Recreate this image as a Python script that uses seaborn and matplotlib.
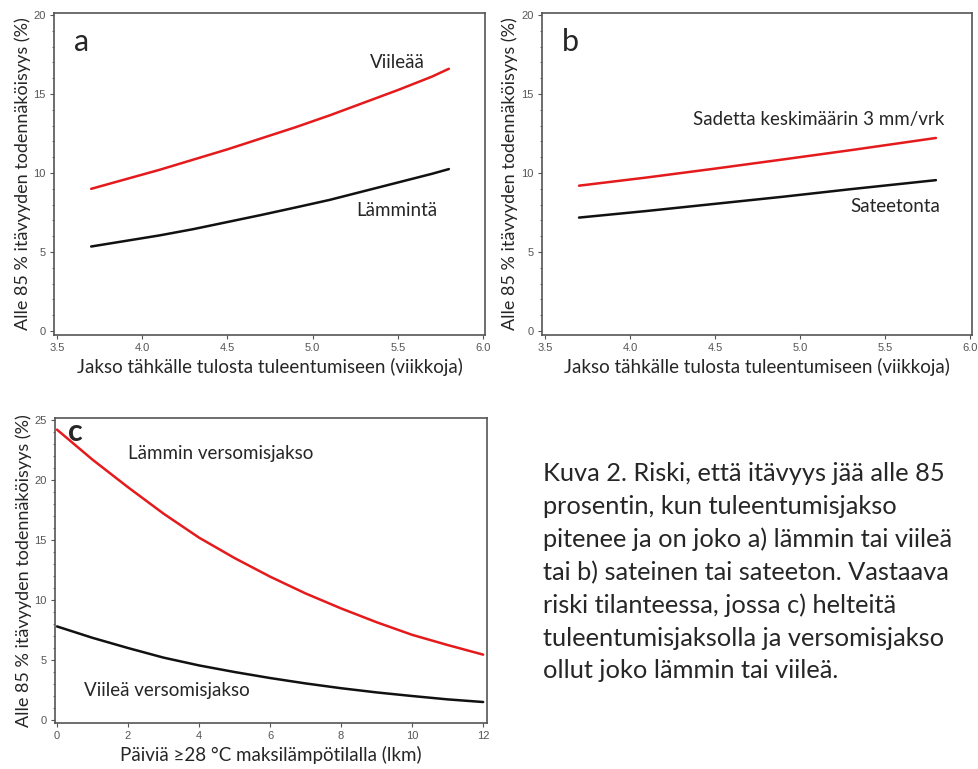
import pandas as pd
import matplotlib
matplotlib.use('Agg')
import matplotlib.pyplot as plt
import seaborn as sns
from matplotlib.ticker import MultipleLocator

# Data
weeks_a = [3.7, 3.9, 4.1, 4.3, 4.5, 4.7, 4.9, 5.1, 5.3, 5.5, 5.7, 5.8]
a_viilea = [9.0, 9.6, 10.2, 10.85, 11.5, 12.2, 12.9, 13.65, 14.45, 15.25, 16.1, 16.6]
a_lamminta = [5.35, 5.7, 6.05, 6.45, 6.9, 7.35, 7.82, 8.3, 8.85, 9.4, 9.95, 10.25]

weeks_b = [3.7, 4.1, 4.5, 4.9, 5.3, 5.8]
b_sadetta = [9.2, 9.72, 10.28, 10.86, 11.45, 12.22]
b_sateetonta = [7.18, 7.6, 8.05, 8.5, 8.98, 9.55]

days = [0, 1, 2, 3, 4, 5, 6, 7, 8, 9, 10, 11, 12]
c_lammin = [24.2, 21.7, 19.4, 17.2, 15.2, 13.5, 11.95, 10.55, 9.3, 8.15, 7.1, 6.25, 5.45]
c_viilea = [7.8, 6.85, 6.0, 5.2, 4.55, 4.0, 3.5, 3.05, 2.65, 2.3, 2.0, 1.72, 1.5]

ylabel = 'Alle 85 % itävyyden todennäköisyys (%)'
xlabel_ab = 'Jakso tähkälle tulosta tuleentumiseen (viikkoja)'
xlabel_c = 'Päiviä ≥28 °C maksilämpötilalla (lkm)'
caption = ('Kuva 2. Riski, että itävyys jää alle 85\n'
           'prosentin, kun tuleentumisjakso\n'
           'pitenee ja on joko a) lämmin tai viileä\n'
           'tai b) sateinen tai sateeton. Vastaava\n'
           'riski tilanteessa, jossa c) helteitä\n'
           'tuleentumisjaksolla ja versomisjakso\n'
           'ollut joko lämmin tai viileä.')

sns.set_style('white')
plt.rcParams['font.family'] = ['Lato', 'DejaVu Sans']

RED = '#e41a1c'
BLACK = '#111111'
SPINE = '#555555'
NOTE_FS = 13.5

fig = plt.figure(figsize=(9.79, 7.69), dpi=100)


def style_axes(ax, xlabel):
    for s in ax.spines.values():
        s.set_color(SPINE)
        s.set_linewidth(1.2)
    ax.tick_params(axis='both', which='major', direction='out', length=3,
                   width=0.8, color=SPINE, labelsize=8, labelcolor='#555555',
                   bottom=True, left=True, pad=3)
    ax.tick_params(axis='y', which='minor', direction='out', length=1.8,
                   width=0.6, color=SPINE, left=True)
    for lab in ax.get_xticklabels() + ax.get_yticklabels():
        lab.set_family(['Liberation Sans', 'DejaVu Sans'])
    ax.set_xlabel(xlabel, fontsize=13.5, labelpad=3)
    ax.set_ylabel(ylabel, fontsize=13, labelpad=2)
    ax.grid(False)


# --- Panel a ---
ax_a = fig.add_axes([0.0552, 0.5644, 0.4402, 0.4187])
df_a = pd.DataFrame({'x': weeks_a * 2, 'y': a_viilea + a_lamminta,
                     'ryhma': ['Viileää'] * len(weeks_a) + ['Lämmintä'] * len(weeks_a)})
sns.lineplot(data=df_a, x='x', y='y', hue='ryhma', palette=[RED, BLACK],
             linewidth=1.8, legend=False, ax=ax_a)
ax_a.set_xlim(3.482, 6.012)
ax_a.set_ylim(-0.25, 20.13)
ax_a.set_xticks([3.5, 4.0, 4.5, 5.0, 5.5, 6.0])
ax_a.set_xticklabels(['3.5', '4.0', '4.5', '5.0', '5.5', '6.0'])
ax_a.set_yticks([0, 5, 10, 15, 20])
ax_a.yaxis.set_minor_locator(MultipleLocator(1))
style_axes(ax_a, xlabel_ab)
ax_a.text(3.6, 18.3, 'a', fontsize=22, va='center')
ax_a.text(5.495, 17.0, 'Viileää', fontsize=NOTE_FS, ha='center', va='center')
ax_a.text(5.495, 7.66, 'Lämmintä', fontsize=NOTE_FS, ha='center', va='center')

# --- Panel b ---
ax_b = fig.add_axes([0.5536, 0.5644, 0.4392, 0.4187])
df_b = pd.DataFrame({'x': weeks_b * 2, 'y': b_sadetta + b_sateetonta,
                     'ryhma': ['Sadetta'] * len(weeks_b) + ['Sateetonta'] * len(weeks_b)})
sns.lineplot(data=df_b, x='x', y='y', hue='ryhma', palette=[RED, BLACK],
             linewidth=1.8, legend=False, ax=ax_b)
ax_b.set_xlim(3.482, 6.012)
ax_b.set_ylim(-0.25, 20.13)
ax_b.set_xticks([3.5, 4.0, 4.5, 5.0, 5.5, 6.0])
ax_b.set_xticklabels(['3.5', '4.0', '4.5', '5.0', '5.5', '6.0'])
ax_b.set_yticks([0, 5, 10, 15, 20])
ax_b.yaxis.set_minor_locator(MultipleLocator(1))
style_axes(ax_b, xlabel_ab)
ax_b.text(3.6, 18.3, 'b', fontsize=22, va='center')
ax_b.text(5.11, 13.37, 'Sadetta keskimäärin 3 mm/vrk', fontsize=NOTE_FS, ha='center', va='center')
ax_b.text(5.56, 7.88, 'Sateetonta', fontsize=NOTE_FS, ha='center', va='center')

# --- Panel c ---
ax_c = fig.add_axes([0.0562, 0.0598, 0.4413, 0.3966])
df_c = pd.DataFrame({'x': days * 2, 'y': c_lammin + c_viilea,
                     'ryhma': ['Lämmin'] * len(days) + ['Viileä'] * len(days)})
sns.lineplot(data=df_c, x='x', y='y', hue='ryhma', palette=[RED, BLACK],
             linewidth=1.8, legend=False, ax=ax_c)
ax_c.set_xlim(-0.056, 12.11)
ax_c.set_ylim(-0.25, 25.17)
ax_c.set_xticks(range(0, 13, 2))
ax_c.set_yticks([0, 5, 10, 15, 20, 25])
ax_c.yaxis.set_minor_locator(MultipleLocator(1))
style_axes(ax_c, xlabel_c)
ax_c.text(0.3, 24.0, 'c', fontsize=22, fontweight='bold', va='center')
ax_c.text(4.6, 22.2, 'Lämmin versomisjakso', fontsize=NOTE_FS, ha='center', va='center')
ax_c.text(3.1, 2.5, 'Viileä versomisjakso', fontsize=NOTE_FS, ha='center', va='center')

# Caption
fig.text(0.5547, 0.256, caption, fontsize=18.3, ha='left', va='center',
         linespacing=1.5)

fig.savefig('out.png', dpi=100)
